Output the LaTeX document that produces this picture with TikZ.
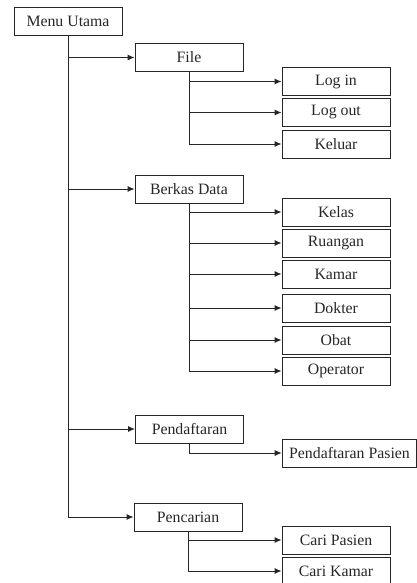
\documentclass[tikz,border=0pt]{standalone}
\usepackage{fontspec}
\setmainfont{Liberation Serif}
\usetikzlibrary{arrows.meta}

\begin{document}
\begin{tikzpicture}[x=1pt,y=-1pt,
    menubox/.style={draw=black!85,line width=0.9pt,minimum width=108pt,minimum height=28pt,
      inner xsep=7pt,font=\fontsize{15.8pt}{18pt}\selectfont,text=black!85},
    link/.style={draw=black!85,line width=0.9pt,-{Latex[length=7pt,width=6pt]}}]
  \useasboundingbox (0,0) rectangle (417,583);
  % menu utama dan submenu
  \node[menubox] (utama) at (68,21.5) {Menu Utama};
  \node[menubox] (file) at (189,57.5) {File};
  \node[menubox] (berkas) at (189,189) {Berkas Data};
  \node[menubox] (daftar) at (189.5,429) {Pendaftaran};
  \node[menubox] (cari) at (188,517) {Pencarian};
  % isi menu
  \node[menubox] (login) at (336,81.5) {Log in};
  \node[menubox] (logout) at (336,112.5) {Log out};
  \node[menubox] (keluar) at (336,144) {Keluar};
  \node[menubox] (kelas) at (336,212) {Kelas};
  \node[menubox] (ruangan) at (336,243) {Ruangan};
  \node[menubox] (kamar) at (336,274) {Kamar};
  \node[menubox] (dokter) at (336,308) {Dokter};
  \node[menubox] (obat) at (336,340) {Obat};
  \node[menubox] (operator) at (336,371) {Operator};
  \node[menubox] (daftarpasien) at (349.5,453) {Pendaftaran Pasien};
  \node[menubox] (caripasien) at (336,540) {Cari Pasien};
  \node[menubox] (carikamar) at (336,571) {Cari Kamar};
  % garis
  \draw[link] (utama.south) |- (cari.west);
  \foreach \n in {file,berkas,daftar}
    \draw[link] (utama.south |- \n.west) -- (\n.west);
  \draw[link] (file.south) |- (keluar.west);
  \foreach \n in {login,logout}
    \draw[link] (file.south |- \n.west) -- (\n.west);
  \draw[link] (berkas.south) |- (operator.west);
  \foreach \n in {kelas,ruangan,kamar,dokter,obat}
    \draw[link] (berkas.south |- \n.west) -- (\n.west);
  \draw[link] (daftar.south) |- (daftarpasien.west);
  \draw[link] (cari.south) |- (carikamar.west);
  \draw[link] (cari.south |- caripasien.west) -- (caripasien.west);
\end{tikzpicture}
\end{document}
